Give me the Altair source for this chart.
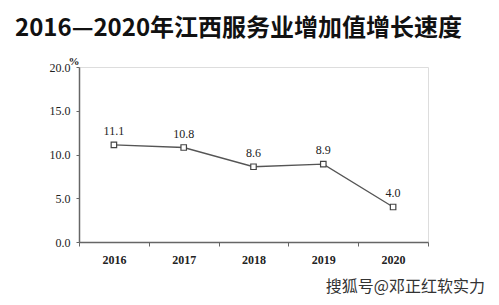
import altair as alt
import pandas as pd

years = ["2016", "2017", "2018", "2019", "2020"]
values = [11.1, 10.8, 8.6, 8.9, 4.0]
labels = ["11.1", "10.8", "8.6", "8.9", "4.0"]
title_text = "2016—2020年江西服务业增加值增长速度"
unit_text = "%"
watermark = "搜狐号@邓正红软实力"

df = pd.DataFrame({"year": years, "value": values, "label": labels})

W, H = 349, 175
serif = "Liberation Serif"

base = alt.Chart(df)

x = alt.X("year:N", sort=years, title=None,
          scale=alt.Scale(paddingInner=0, paddingOuter=0),
          axis=alt.Axis(labelAngle=0, labelFont=serif, labelFontSize=12,
                        labelColor="#222", labelPadding=8, tickBand="extent",
                        tickSize=4, tickColor="#666", domainColor="#666",
                        domainWidth=1.5, labelFontWeight="bold"))
y = alt.Y("value:Q", title=None,
          scale=alt.Scale(domain=[0, 20], nice=False),
          axis=alt.Axis(values=[0, 5, 10, 15, 20], format=".1f", grid=False,
                        labelFont=serif, labelFontSize=12, labelColor="#222",
                        labelPadding=6, tickSize=3, tickColor="#666",
                        domainColor="#666", domainWidth=1.5))

line = base.mark_line(color="#555", strokeWidth=1.3).encode(x=x, y=y)
pts = base.mark_point(shape="square", filled=True, fill="white", stroke="#444",
                      strokeWidth=1.2, size=30, opacity=1).encode(x=x, y=y)
txt = base.mark_text(dy=-14, font=serif, fontSize=12, color="#222").encode(
    x=x, y=y, text="label:N")

tdf = pd.DataFrame({"t": [title_text]})
title = alt.Chart(tdf).mark_text(align="left", baseline="alphabetic", font="Noto Sans CJK SC",
                                 fontSize=24, fontWeight="bold", color="#111").encode(
    x=alt.value(-64), y=alt.value(-31), text="t:N")
udf = pd.DataFrame({"t": [unit_text]})
unit = alt.Chart(udf).mark_text(align="center", baseline="bottom", font=serif,
                                fontSize=11, fontWeight="bold", color="#222").encode(
    x=alt.value(-5), y=alt.value(0), text="t:N")
wdf = pd.DataFrame({"t": [watermark]})
wm = alt.Chart(wdf).mark_text(align="right", baseline="middle", font="Noto Sans CJK SC",
                              fontSize=16, color="#333").encode(
    x=alt.value(406), y=alt.value(220), text="t:N")

chart = alt.layer(line, pts, txt, title, unit, wm).properties(
    width=W, height=H,
    autosize=alt.AutoSizeParams(type="none"),
    padding={"left": 79, "top": 67, "right": 71, "bottom": 63},
).configure_view(stroke=None).configure(background="white")

chart.save("out.html", embed_options={"renderer": "svg", "actions": False})
